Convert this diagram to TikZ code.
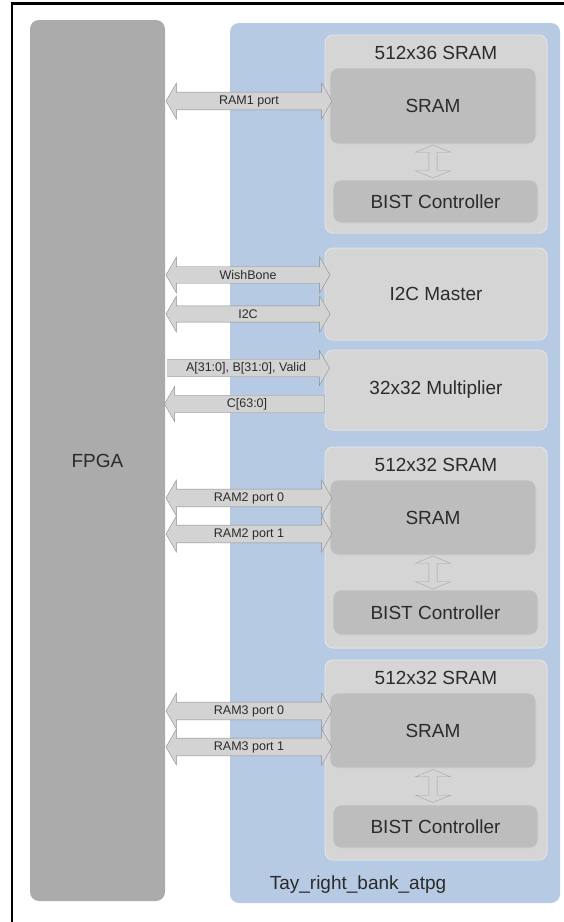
\documentclass[tikz,border=0pt]{standalone}
\usepackage{fontspec}
\setmainfont{Liberation Sans}
\usetikzlibrary{shapes.arrows}
\definecolor{fpgagray}{HTML}{ABABAB}
\definecolor{bankblue}{HTML}{B6CAE4}
\definecolor{grpgray}{HTML}{D5D5D5}
\definecolor{grpline}{HTML}{E2E2E2}
\definecolor{blkgray}{HTML}{BDBDBD}
\definecolor{arrfill}{HTML}{D3D3D3}
\definecolor{arrline}{HTML}{8E8E8E}
\definecolor{txt}{HTML}{2B2B2B}
\begin{document}
\begin{tikzpicture}[x=1pt,y=-1pt,
  every node/.style={text=txt, font=\fontsize{19}{22}\selectfont, inner sep=0pt},
  fpgabox/.style={rounded corners=9pt, fill=fpgagray},
  bankbox/.style={rounded corners=9pt, fill=bankblue},
  grpbox/.style={rounded corners=8pt, fill=grpgray, draw=grpline, line width=1pt},
  blkbox/.style={rounded corners=8pt, fill=blkgray, draw=grpgray, line width=0.8pt},
  port/.style={double arrow, double arrow head extend=8pt, double arrow tip angle=120,
    minimum width=36pt, minimum height=166pt, inner sep=2pt,
    fill=arrfill, draw=arrline, font=\fontsize{12.5}{14}\selectfont},
  oneway/.style={single arrow, single arrow head extend=8pt, single arrow tip angle=120,
    minimum width=35pt, minimum height=162pt, inner sep=2pt,
    fill=arrfill, draw=arrline, font=\fontsize{12.5}{14}\selectfont},
  bist/.style={double arrow, double arrow head extend=7pt, double arrow tip angle=135,
    rotate=90, minimum width=35pt, minimum height=33pt, inner sep=2pt,
    fill=grpgray, draw=arrline!80}]
\useasboundingbox (0,0) rectangle (564,922);
\draw[line width=2.5pt] (12,922) -- (12,3.5) -- (564,3.5);
\node[fpgabox, minimum width=135pt, minimum height=881pt] (fpga) at (97.5,460.5) {FPGA};
\node[bankbox, minimum width=330pt, minimum height=880pt] (bank) at (395,463) {};
\node (bankname) at (358,885) {Tay\_right\_bank\_atpg};
\node[grpbox, minimum width=222pt, minimum height=198pt] (g1) at (436,134) {};
\node (t1) at (436,53) {512x36 SRAM};
\node[blkbox, minimum width=206pt, minimum height=76pt] (s1) at (433,106) {SRAM};
\node[blkbox, minimum width=205pt, minimum height=43pt] (b1) at (435.5,201.5) {BIST Controller};
\node[bist] (v1) at (433,161.5) {};
\node[grpbox, minimum width=222pt, minimum height=92pt] (i2c) at (436,294) {I2C Master};
\node[grpbox, minimum width=222pt, minimum height=80pt] (mul) at (436,390) {32x32 Multiplier};
\node[grpbox, minimum width=222pt, minimum height=201pt] (g2) at (436,547.5) {};
\node (t2) at (436,465) {512x32 SRAM};
\node[blkbox, minimum width=206pt, minimum height=75pt] (s2) at (433,517.5) {SRAM};
\node[blkbox, minimum width=205pt, minimum height=45pt] (b2) at (435.5,612.5) {BIST Controller};
\node[bist] (v2) at (433,572.5) {};
\node[grpbox, minimum width=222pt, minimum height=200pt] (g3) at (436,760) {};
\node (t3) at (436,678) {512x32 SRAM};
\node[blkbox, minimum width=206pt, minimum height=75pt] (s3) at (433,730.5) {SRAM};
\node[blkbox, minimum width=205pt, minimum height=43pt] (b3) at (435.5,826.5) {BIST Controller};
\node[bist] (v3) at (433,786) {};
\node[port] (p1) at (249,101) {RAM1 port};
\node[port, minimum height=164pt] (wb) at (248,275) {WishBone};
\node[port, minimum height=164pt] (ic) at (248,314) {I2C};
\node[oneway] (ab) at (246,368) {A[31:0], B[31:0], Valid};
\node[oneway, shape border rotate=180, minimum height=160pt] (c) at (247,404) {C[63:0]};
\node[port] (p20) at (249,498) {RAM2 port 0};
\node[port] (p21) at (249,534) {RAM2 port 1};
\node[port] (p30) at (249,711) {RAM3 port 0};
\node[port] (p31) at (249,747) {RAM3 port 1};
\end{tikzpicture}
\end{document}
